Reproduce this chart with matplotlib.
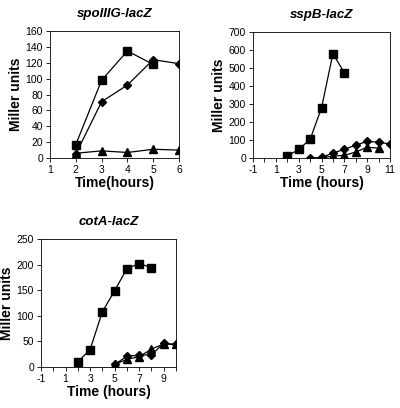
import matplotlib
matplotlib.use("Agg")
import matplotlib.pyplot as plt
from matplotlib.ticker import MultipleLocator

plt.rcParams['font.family'] = ['Liberation Sans', 'DejaVu Sans']
plt.rcParams['axes.unicode_minus'] = False

# spoIIIG-lacZ
g_sq_t = [2, 3, 4, 5]
g_sq_v = [17, 98, 135, 118]
g_di_t = [2, 3, 4, 5, 6]
g_di_v = [5, 71, 92, 124, 119]
g_tr_t = [2, 3, 4, 5, 6]
g_tr_v = [6, 9, 7, 11, 10]

# sspB-lacZ
b_sq_t = [2, 3, 4, 5, 6, 7]
b_sq_v = [10, 48, 103, 278, 580, 473]
b_di_t = [4, 5, 6, 7, 8, 9, 10, 11]
b_di_v = [0, 3, 28, 48, 72, 92, 88, 78]
b_tr_t = [5, 6, 7, 8, 9, 10]
b_tr_v = [2, 10, 15, 33, 60, 55]

# cotA-lacZ
a_sq_t = [2, 3, 4, 5, 6, 7, 8]
a_sq_v = [10, 34, 108, 149, 192, 202, 194]
a_di_t = [5, 6, 7, 8, 9, 10]
a_di_v = [5, 21, 23, 24, 46, 44]
a_tr_t = [5, 6, 7, 8, 9, 10]
a_tr_v = [5, 15, 20, 35, 45, 44]


def draw(ax, series, title, xlabel, xlim, xmajor, ylim, ystep):
    for (t, v), m, ms in zip(series, ['s', 'D', '^'], [5.2, 3.8, 5.2]):
        ax.plot(t, v, color='black', lw=0.9, marker=m, ms=ms,
                markerfacecolor='black', markeredgecolor='black')
    ax.set_xlim(*xlim)
    ax.set_ylim(*ylim)
    ax.set_xticks(xmajor)
    ax.xaxis.set_minor_locator(MultipleLocator(1))
    ax.yaxis.set_major_locator(MultipleLocator(ystep))
    ax.tick_params(axis='both', which='both', direction='out', labelsize=7.5,
                   length=3, width=0.6, pad=2)
    ax.tick_params(axis='x', which='minor', length=3)
    for s in ax.spines.values():
        s.set_linewidth(0.6)
    ax.set_xlabel(xlabel, fontsize=10, fontweight='bold', labelpad=1)
    ax.set_ylabel('Miller units', fontsize=10, fontweight='bold', labelpad=2)
    ax.set_title(title, fontsize=9.5, fontweight='bold', style='italic', pad=10)


fig = plt.figure(figsize=(4, 4.08), dpi=100)

ax1 = fig.add_axes([0.125, 0.6127, 0.3225, 0.311])
draw(ax1, [(g_sq_t, g_sq_v), (g_di_t, g_di_v), (g_tr_t, g_tr_v)],
     'spoIIIG-lacZ', 'Time(hours)', (1, 6), [1, 2, 3, 4, 5, 6], (0, 160), 20)

ax2 = fig.add_axes([0.6325, 0.6127, 0.3425, 0.309])
draw(ax2, [(b_sq_t, b_sq_v), (b_di_t, b_di_v), (b_tr_t, b_tr_v)],
     'sspB-lacZ', 'Time (hours)', (-1, 11), [-1, 1, 3, 5, 7, 9, 11], (0, 700), 100)

ax3 = fig.add_axes([0.1025, 0.1005, 0.3375, 0.3137])
draw(ax3, [(a_sq_t, a_sq_v), (a_di_t, a_di_v), (a_tr_t, a_tr_v)],
     'cotA-lacZ', 'Time (hours)', (-1, 10), [-1, 1, 3, 5, 7, 9], (0, 250), 50)

fig.savefig('out.png', dpi=100)
